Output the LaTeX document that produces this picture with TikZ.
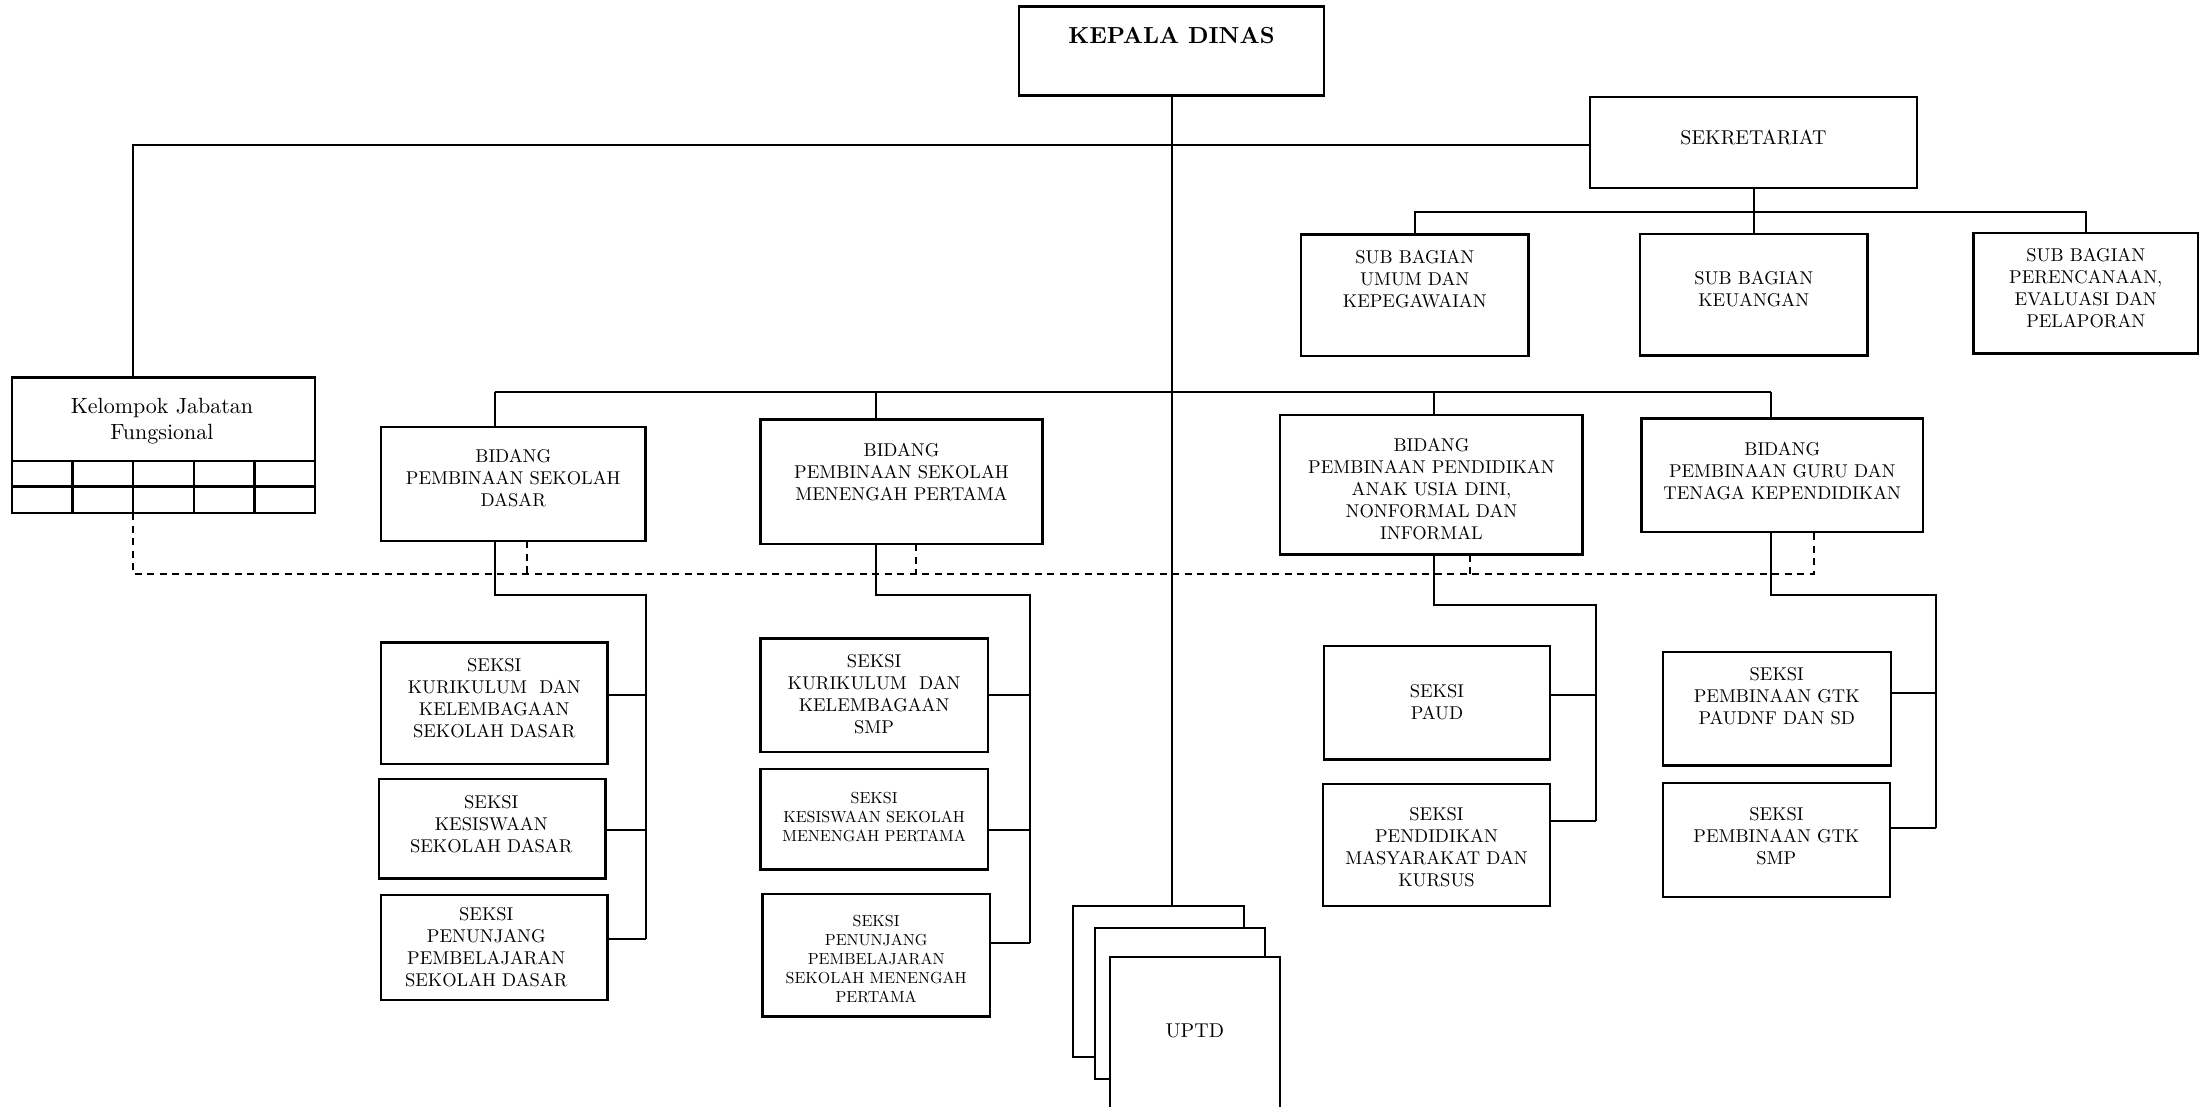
\documentclass[tikz,border=0pt]{standalone}
\usepackage{fontspec}
\setmainfont{lmroman10-regular.otf}[BoldFont=lmroman10-bold.otf]
\begin{document}
\begin{tikzpicture}[x=1pt,y=-1pt,
  box/.style={draw, line width=2.3pt, fill=white, inner sep=0pt, outer sep=0pt},
  txt/.style={align=center, inner sep=0pt, font=\fontsize{18.5}{22}\selectfont},
  smalltxt/.style={font=\fontsize{16}{19}\selectfont},
  headtxt/.style={font=\fontsize{23.2}{27}\selectfont\bfseries},
  bigtxt/.style={font=\fontsize{20}{24}\selectfont},
  grouptxt/.style={font=\fontsize{22}{25.5}\selectfont},
  link/.style={line width=2pt},
  dashlink/.style={line width=2pt, dash pattern=on 7pt off 5.5pt}]

% box: [text options]{name}{x1}{y1}{x2}{y2}{text y}{text}
\newcommand{\orgbox}[8][]{%
  \node[box, minimum width={#5-#3}, minimum height={#6-#4}] (#2) at ({(#3+#5)/2},{(#4+#6)/2}) {};
  \node[txt,#1] (#2-t) at ({(#3+#5)/2},#7) {#8};}

\useasboundingbox (0,0) rectangle (2200,1106);
\fill[white] (0,0) rectangle (2200,1106);
\clip (0,0) rectangle (2200,1106);

% ---- top level
\orgbox[headtxt]{kd}{1019}{6.5}{1324}{95.5}{35.3}{KEPALA DINAS}
\orgbox[bigtxt]{sek}{1590}{97}{1917}{188}{137.5}{SEKRETARIAT}
\orgbox{sbu}{1301}{234.5}{1528.5}{356}{278.7}{SUB BAGIAN\\UMUM DAN\\KEPEGAWAIAN}
\orgbox{sbk}{1640}{234}{1867.5}{355.5}{288.6}{SUB BAGIAN\\KEUANGAN}
\orgbox{sbp}{1973.5}{233}{2198}{353.5}{288}{SUB BAGIAN\\PERENCANAAN,\\EVALUASI DAN\\PELAPORAN}

% ---- functional group with its grid
\orgbox[grouptxt,xshift=-1.5pt]{kjf}{12}{377.5}{315}{513}{421}{Kelompok Jabatan\\Fungsional}
\draw[line width=2.3pt] (kjf.west |- 0,460.7) -- (kjf.east |- 0,460.7)
                        (kjf.west |- 0,486.4) -- (kjf.east |- 0,486.4);
\foreach \gx in {72.6,133.2,193.8,254.4}
  \draw[line width=2.3pt] (\gx,460.7) -- (\gx,513);

% ---- fields
\orgbox{bsd}{381}{427}{645.5}{541}{478.5}{BIDANG\\PEMBINAAN SEKOLAH\\DASAR}
\orgbox{bsmp}{760.5}{419.5}{1042.5}{544.3}{472.3}{BIDANG\\PEMBINAAN SEKOLAH\\MENENGAH PERTAMA}
\orgbox{bpaud}{1280.3}{415}{1582.6}{554.6}{489.3}{BIDANG\\PEMBINAAN PENDIDIKAN\\ANAK USIA DINI,\\NONFORMAL DAN\\INFORMAL}
\orgbox{bgtk}{1641.6}{418.6}{1922.9}{532}{471}{BIDANG\\PEMBINAAN GURU DAN\\TENAGA KEPENDIDIKAN}

% ---- sections
\orgbox{sd1}{381}{642.5}{607.5}{763.8}{698.1}{SEKSI\\KURIKULUM~~DAN\\KELEMBAGAAN\\SEKOLAH DASAR}
\orgbox[xshift=-1pt]{sd2}{379}{779}{605.5}{878.6}{824.5}{SEKSI\\KESISWAAN\\SEKOLAH DASAR}
\orgbox[xshift=-8pt]{sd3}{381}{895}{607.5}{1000}{947.5}{SEKSI\\PENUNJANG\\PEMBELAJARAN\\SEKOLAH DASAR}

\orgbox{smp1}{760.5}{638.6}{987.7}{752.3}{694.5}{SEKSI\\KURIKULUM~~DAN\\KELEMBAGAAN\\SMP}
\orgbox[smalltxt]{smp2}{760.5}{769}{987.7}{869.6}{817}{SEKSI\\KESISWAAN SEKOLAH\\MENENGAH PERTAMA}
\orgbox[smalltxt]{smp3}{762.5}{893.8}{989.8}{1016.5}{959.2}{SEKSI\\PENUNJANG\\PEMBELAJARAN\\SEKOLAH MENENGAH\\PERTAMA}

\orgbox{paud1}{1323.7}{645.8}{1550.2}{759.5}{702.1}{SEKSI\\PAUD}
\orgbox{paud2}{1323}{783.7}{1550}{906}{846.9}{SEKSI\\PENDIDIKAN\\MASYARAKAT DAN\\KURSUS}

\orgbox{gtk1}{1662.7}{652}{1890.8}{765.6}{696.5}{SEKSI\\PEMBINAAN GTK\\PAUDNF DAN SD}
\orgbox{gtk2}{1662.7}{783.3}{1890}{897}{836}{SEKSI\\PEMBINAAN GTK\\SMP}

% ---- technical units (stacked sheets)
\orgbox{up1}{1073}{905.7}{1243.7}{1057}{980}{}
\orgbox{up2}{1094.7}{928.3}{1265.3}{1079.3}{1000}{}
\orgbox[bigtxt]{up3}{1109.7}{957}{1280}{1125}{1030.7}{UPTD}

% ---- command lines
\draw[link] (kd.south) -- (kd.south |- up1.north);

\coordinate (jt) at (132.5,144.6);
\draw[link] (sek.west |- jt) -- (jt) -- (jt |- kjf.north);

\coordinate (sh) at (1753.5,211.8);
\draw[link] (sek.south) -- (sek.south |- sbk.north);
\draw[link] (sbu.north) -- (sbu.north |- sh) -- (sbp.north |- sh) -- (sbp.north);

\coordinate (bb1) at (494.6,391.8);
\coordinate (bb2) at (876.2,391.8);
\coordinate (bb3) at (1434,391.8);
\coordinate (bb4) at (1771.3,391.8);
\draw[link] (bb1) -- (bb4);
\draw[link] (bb1) -- (bb1 |- bsd.north);
\draw[link] (bb2) -- (bb2 |- bsmp.north);
\draw[link] (bb3) -- (bb3 |- bpaud.north);
\draw[link] (bb4) -- (bb4 |- bgtk.north);

% ---- coordination lines
\coordinate (d0) at (132.5,573.5);
\coordinate (d1) at (527,573.5);
\coordinate (d2) at (915.5,573.5);
\coordinate (d3) at (1470,573.5);
\coordinate (d4) at (1813.5,573.5);
\draw[dashlink] (d0 |- kjf.south) -- (d0) -- (d4) -- (d4 |- bgtk.south);
\draw[dashlink] (d1 |- bsd.south) -- (d1);
\draw[dashlink] (d2 |- bsmp.south) -- (d2);
\draw[dashlink] (d3 |- bpaud.south) -- (d3);

% ---- section branches
\coordinate (sdk) at (495.3,595);
\coordinate (sdr) at (646,595);
\coordinate (c11) at (646,694.5);
\coordinate (c12) at (646,830);
\coordinate (c13) at (646,939.4);
\draw[link] (sdk |- bsd.south) -- (sdk) -- (sdr) -- (c13);
\draw[link] (c11) -- (c11 -| sd1.east);
\draw[link] (c12) -- (c12 -| sd2.east);
\draw[link] (c13) -- (c13 -| sd3.east);

\coordinate (smk) at (876.2,595.2);
\coordinate (smr) at (1029.8,595.2);
\coordinate (c21) at (1029.8,694.5);
\coordinate (c22) at (1029.8,830.2);
\coordinate (c23) at (1029.8,942.9);
\draw[link] (smk |- bsmp.south) -- (smk) -- (smr) -- (c23);
\draw[link] (c21) -- (c21 -| smp1.east);
\draw[link] (c22) -- (c22 -| smp2.east);
\draw[link] (c23) -- (c23 -| smp3.east);

\coordinate (pdk) at (1434,605);
\coordinate (pdr) at (1596.2,605);
\coordinate (c31) at (1596.2,694.5);
\coordinate (c32) at (1596.2,821);
\draw[link] (pdk |- bpaud.south) -- (pdk) -- (pdr) -- (c32);
\draw[link] (c31) -- (c31 -| paud1.east);
\draw[link] (c32) -- (c32 -| paud2.east);

\coordinate (gtk) at (1771.4,595.2);
\coordinate (gtr) at (1936,595.2);
\coordinate (c41) at (1936,693.4);
\coordinate (c42) at (1936,827.7);
\draw[link] (gtk |- bgtk.south) -- (gtk) -- (gtr) -- (c42);
\draw[link] (c41) -- (c41 -| gtk1.east);
\draw[link] (c42) -- (c42 -| gtk2.east);
\end{tikzpicture}
\end{document}
